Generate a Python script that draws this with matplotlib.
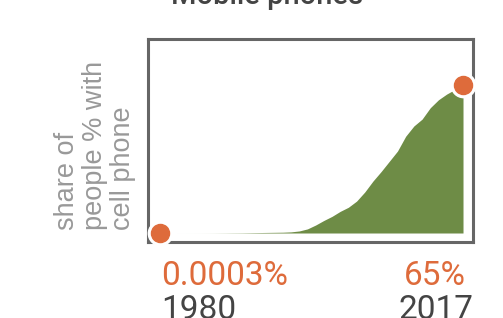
import matplotlib.pyplot as plt

years = list(range(1980, 2018))
share = [0.0003, 0.0005, 0.001, 0.002, 0.004, 0.008, 0.015, 0.03, 0.05, 0.08,
         0.1, 0.15, 0.2, 0.25, 0.3, 0.35, 0.5, 0.9, 1.8, 3.5,
         5.5, 7.3, 9.5, 11.3, 14.0, 18.0, 22.8, 27.0, 31.5, 36.0,
         42.5, 47.0, 50.0, 55.0, 58.5, 61.0, 63.0, 65.0]
first_label = "0.0003%"
last_label = "65%"

green = "#6e8c46"
orange = "#de6b3b"

fig = plt.figure(figsize=(5.03, 3.18), dpi=100)
ax = fig.add_axes([148/503, 76/318, 325/503, 203/318])

ax.fill_between(years, 0, share, color=green, lw=0)
# end markers with white halo
for x, y in [(years[0], share[0]), (years[-1], share[-1])]:
    ax.plot(x, y, 'o', ms=17.5, color='white', zorder=4, clip_on=False)
    ax.plot(x, y, 'o', ms=13, color=orange, zorder=5, clip_on=False)

ax.set_xlim(1978.53, 2018.22)
ax.set_ylim(-3.95, 85.2)
ax.set_xticks([])
ax.set_yticks([])
for s in ax.spines.values():
    s.set_color('#666666')
    s.set_linewidth(2.2)

fig.text(0.531, 0.987, "Mobile phones", ha='center', va='baseline',
         fontsize=21, color='#444444', family='Roboto', weight='medium')

fig.text(95/503, 1 - 230/318, "share of\npeople % with\ncell phone", rotation=90,
         ha='center', va='bottom', multialignment='left', linespacing=1.12,
         fontsize=19.5, color='#999999', family='Liberation Sans')

tfont = dict(family='Roboto', fontsize=24)
fig.text(161/503, 1 - 285/318, first_label, ha='left', va='baseline', color=orange, **tfont)
fig.text(466/503, 1 - 285/318, last_label, ha='right', va='baseline', color=orange, **tfont)
fig.text(161/503, 1 - 319/318, str(years[0]), ha='left', va='baseline', color='#444444', **tfont)
fig.text(473/503, 1 - 319/318, str(years[-1]), ha='right', va='baseline', color='#444444', **tfont)

fig.savefig("out.png", dpi=100)
